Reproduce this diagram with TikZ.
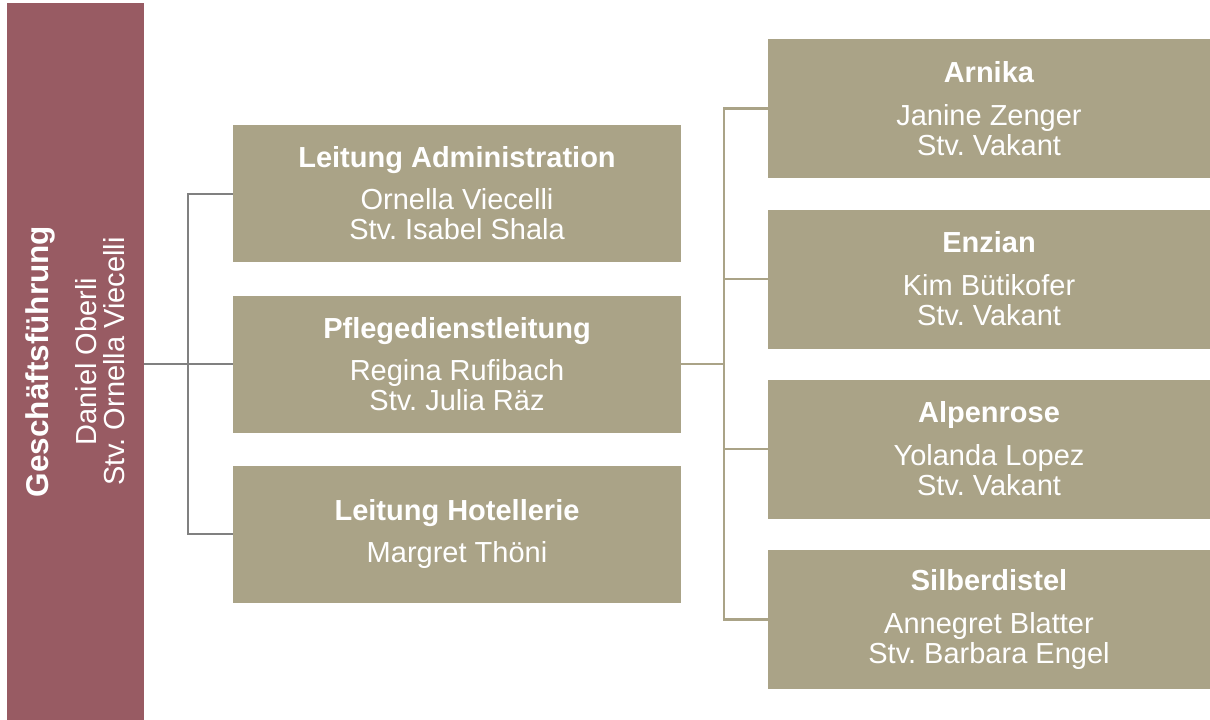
\documentclass[tikz,border=0pt]{standalone}
\usepackage{fontspec}
\setmainfont{Liberation Sans}
\usetikzlibrary{positioning}
\definecolor{color_gf}{RGB}{152,91,99}
\definecolor{color_unit}{RGB}{170,163,135}
\definecolor{color_line}{RGB}{128,128,128}
\frenchspacing
\begin{document}
\begin{tikzpicture}[x=1pt,y=-1pt,
every node/.style={text=white,align=center,inner sep=0pt,
  font=\fontsize{29}{30}\selectfont},
gfbox/.style={fill=color_gf,minimum width=717pt,minimum height=137pt},
midbox/.style={fill=color_unit,minimum width=448pt,minimum height=137pt},
rightbox/.style={fill=color_unit,minimum width=442pt,minimum height=139pt},
conn_grey/.style={draw=color_line,line width=2pt},
conn_tan/.style={draw=color_unit,line width=2.5pt}]
\useasboundingbox (0,0) rectangle (1210,720);
% GESCHAEFTSFUEHRUNG
\node[gfbox,rotate=90] (gf) at (75.5,361.5)
  {{\fontsize{31.5}{30}\selectfont\textbf{Geschäftsführung}}\\[18pt]Daniel Oberli\\[-2pt]Stv. Ornella Viecelli};
% LEITUNGEN
\node[midbox] (adm) at (457,193.5)
  {\textbf{Leitung Administration}\\[12pt]Ornella Viecelli\\Stv. Isabel Shala};
\node[midbox] (pdl) at (457,364)
  {\textbf{Pflegedienstleitung}\\[12pt]Regina Rufibach\\Stv. Julia Räz};
\node[midbox] (hot) at (457,534)
  {\textbf{Leitung Hotellerie}\\[12pt]Margret Thöni};
% ABTEILUNGEN
\node[rightbox] (arn) at (989,108.5)
  {\textbf{Arnika}\\[13pt]Janine Zenger\\Stv. Vakant};
\node[rightbox] (enz) at (989,279)
  {\textbf{Enzian}\\[13pt]Kim Bütikofer\\Stv. Vakant};
\node[rightbox] (alp) at (989,449)
  {\textbf{Alpenrose}\\[13pt]Yolanda Lopez\\Stv. Vakant};
\node[rightbox] (sil) at (989,619.5)
  {\textbf{Silberdistel}\\[13pt]Annegret Blatter\\Stv. Barbara Engel};
% VERBINDUNGEN
\coordinate (jl) at (188,364);
\coordinate (jr) at (724,364);
\draw[conn_grey] (gf.south |- jl) -- (pdl.west);
\draw[conn_grey] (adm.west) -| (jl) |- (hot.west);
\draw[conn_tan] (pdl.east) -- (jr);
\draw[conn_tan] (arn.west) -| (jr) |- (sil.west);
\draw[conn_tan] (enz.west) -| (jr);
\draw[conn_tan] (alp.west) -| (jr);
\end{tikzpicture}
\end{document}
